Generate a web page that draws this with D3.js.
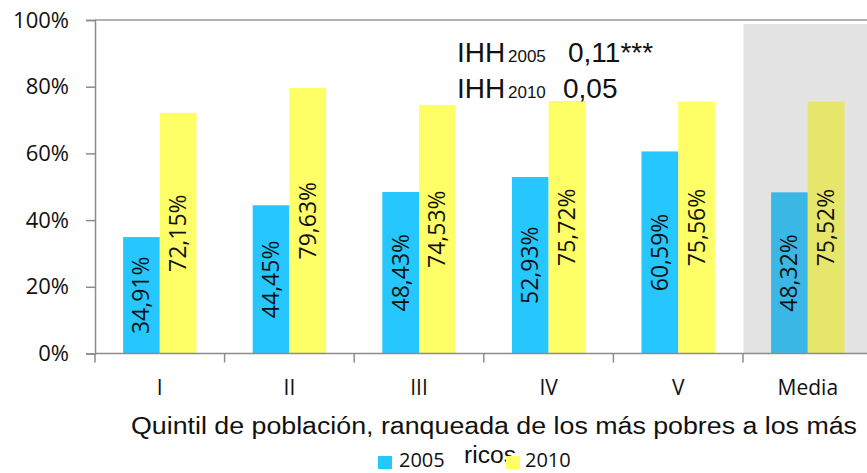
<!DOCTYPE html>
<html><head><meta charset="utf-8">
<script src="https://cdn.jsdelivr.net/npm/d3@7/dist/d3.min.js"></script>
<style>body{margin:0;background:#fff}svg{display:block}</style>
</head><body><svg id="c" width="867" height="473"></svg>
<script>
const categories = ["I","II","III","IV","V","Media"];
const series2005 = [34.91,44.45,48.43,52.93,60.59,48.32];
const series2010 = [72.15,79.63,74.53,75.72,75.56,75.52];
const seriesNames = ["2005","2010"];
const yTicks = [0,20,40,60,80,100];
const labels2005 = ["34,91%","44,45%","48,43%","52,93%","60,59%","48,32%"];
const labels2010 = ["72,15%","79,63%","74,53%","75,72%","75,56%","75,52%"];
const xTitle = "Quintil de población, ranqueada de los más pobres a los más";
const xTitle2 = "ricos";

const svg = d3.select("#c");
const L = 95, T = 20, B = 353.5, step = 129.6;
const x = d3.scaleBand().domain(categories).range([L, L + step*categories.length]).paddingInner(0).paddingOuter(0);
const y = d3.scaleLinear().domain([0,100]).range([B, T]);
const bw = 36.7;
const cBlue = "#26c6fe", cYel = "#fefe66", mBlue = "#3ab7e5", mYel = "#e6e66a";
const tickFont = "'Open Sans', sans-serif";

// shaded Media area
svg.append("rect").attr("x", x("Media")+0.5).attr("y", 24).attr("width", 867 - x("Media")).attr("height", B - 24).attr("fill", "#e3e3e3");

// top border line at 100%
svg.append("line").attr("x1", L).attr("x2", 867).attr("y1", y(100)).attr("y2", y(100)).attr("stroke", "#999").attr("stroke-width", 1.5);

// bars
const g = svg.append("g");
categories.forEach((c,i)=>{
  const cx = x(c) + x.bandwidth()/2;
  const isM = c === "Media";
  g.append("rect").attr("x", cx - bw).attr("y", y(series2005[i])).attr("width", bw).attr("height", B - y(series2005[i])).attr("fill", isM ? mBlue : cBlue);
  g.append("rect").attr("x", cx).attr("y", y(series2010[i])).attr("width", bw).attr("height", B - y(series2010[i])).attr("fill", isM ? mYel : cYel);
  const yb = (y(series2005[i]) + B)/2, yy = (y(series2010[i]) + B)/2;
  g.append("text").attr("transform", `translate(${cx - bw/2 + 8},${yb}) rotate(-90)`).attr("text-anchor","middle")
    .attr("font-family", tickFont).attr("font-size", 23).attr("fill", "#111").text(labels2005[i]);
  g.append("text").attr("transform", `translate(${cx + bw/2 + 8},${yy}) rotate(-90)`).attr("text-anchor","middle")
    .attr("font-family", tickFont).attr("font-size", 23).attr("fill", "#111").text(labels2010[i]);
});

// y axis
const yAxis = svg.append("g").attr("transform", `translate(${L},0)`)
  .call(d3.axisLeft(y).tickValues(yTicks).tickSize(9).tickPadding(17).tickFormat(d=>d+"%"));
yAxis.select(".domain").attr("stroke", "#8c8c8c").attr("stroke-width", 1.5);
yAxis.selectAll(".tick line").attr("stroke", "#8c8c8c").attr("stroke-width", 1.5);
yAxis.selectAll("text").attr("font-family", tickFont).attr("font-size", 22).attr("fill", "#111");

// x axis
const xAxis = svg.append("g").attr("transform", `translate(0,${B})`)
  .call(d3.axisBottom(x).tickSize(0).tickPadding(27));
xAxis.select(".domain").attr("stroke", "#8c8c8c").attr("stroke-width", 1.5).attr("d", `M${L},0H867`);
xAxis.selectAll("text").attr("font-family", tickFont).attr("font-size", 21).attr("fill", "#111");
// boundary ticks between categories
const bounds = categories.map(c=>x(c));
svg.append("g").selectAll("line").data(bounds).join("line")
  .attr("x1", d=>d).attr("x2", d=>d).attr("y1", B).attr("y2", B+9).attr("stroke", "#8c8c8c").attr("stroke-width", 1.5);

// x title
svg.append("text").attr("x", 494).attr("y", 434).attr("text-anchor","middle")
  .attr("font-family","'Liberation Sans', Arial, sans-serif").attr("font-size", 23).attr("fill","#111")
  .attr("textLength", 726).attr("lengthAdjust","spacingAndGlyphs").text(xTitle);
svg.append("text").attr("x", 490).attr("y", 463).attr("text-anchor","middle")
  .attr("font-family","'Liberation Sans', Arial, sans-serif").attr("font-size", 23).attr("fill","#111")
  .attr("textLength", 52).attr("lengthAdjust","spacingAndGlyphs").text(xTitle2);

// legend
const leg = [{n:seriesNames[0], c:cBlue, x:378, tx:399},{n:seriesNames[1], c:cYel, x:506, tx:525}];
leg.forEach(d=>{
  svg.append("rect").attr("x", d.x).attr("y", 456).attr("width", 14).attr("height", 13).attr("fill", d.c);
  svg.append("text").attr("x", d.tx).attr("y", 467).attr("font-family", tickFont).attr("font-size", 20).attr("fill","#111").text(d.n);
});

// annotation
const ann = [{sub:"2005", val:"0,11***", y:62, vx:568},{sub:"2010", val:"0,05", y:98, vx:563}];
ann.forEach(a=>{
  const t = svg.append("text").attr("y", a.y).attr("font-family","'Liberation Sans', Arial, sans-serif").attr("fill","#111");
  t.append("tspan").attr("x", 457).attr("font-size", 28).text("IHH");
  t.append("tspan").attr("x", 508).attr("font-size", 17).text(a.sub);
  t.append("tspan").attr("x", a.vx).attr("font-size", 28).text(a.val);
});
</script></body></html>
